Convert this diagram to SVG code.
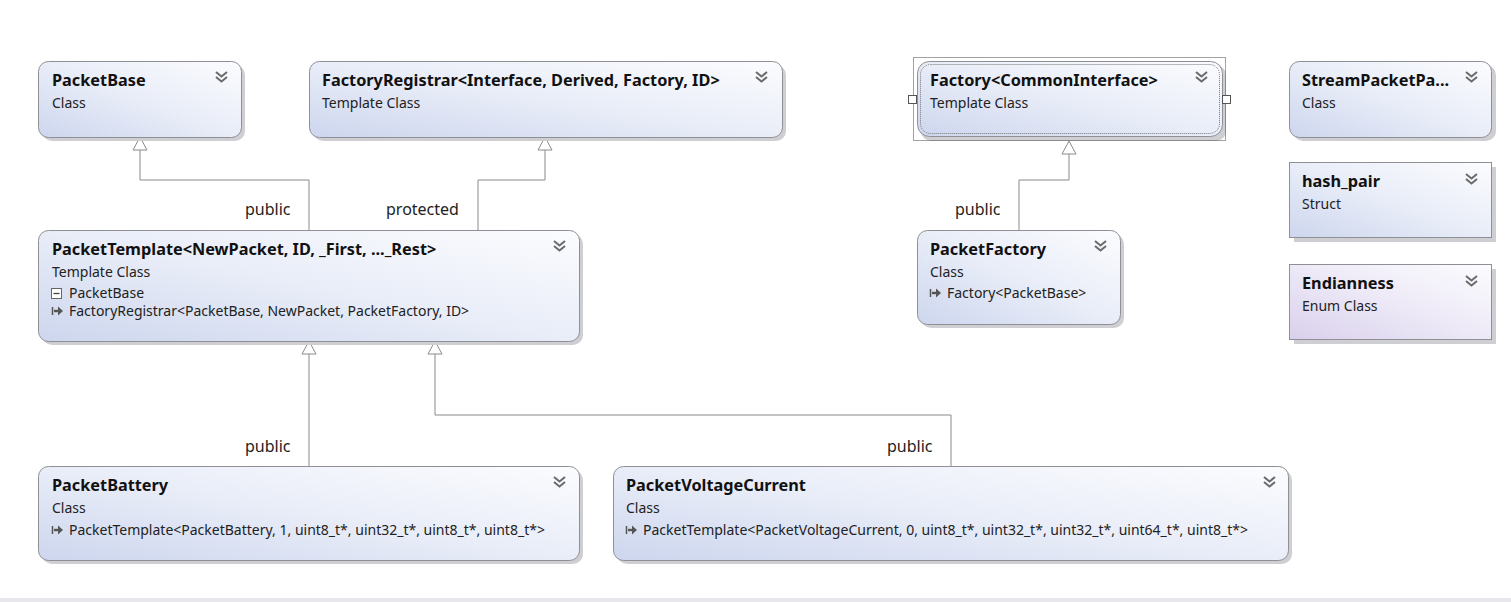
<svg xmlns="http://www.w3.org/2000/svg" width="1511" height="602" viewBox="0 0 1511 602">
<style>
.sh{fill:#cfcfd3}
.box{fill:url(#g);stroke:#8f8f96;stroke-width:1}
.boxe{fill:url(#ge);stroke:#8f8f96;stroke-width:1}
.t{font-family:"Segoe UI","Noto Sans","Open Sans",sans-serif;font-weight:bold;font-size:16.3px;fill:#111}
.s{font-family:"Segoe UI","Noto Sans","Open Sans",sans-serif;font-size:14px;fill:#222}
.b{font-family:"Segoe UI","Noto Sans","Open Sans",sans-serif;font-size:14px;fill:#222}
.lbl{font-family:"Segoe UI","Noto Sans","Open Sans",sans-serif;font-size:16px;fill:#222}
.ln{fill:none;stroke:#8a8a8a;stroke-width:1}
.ah{fill:#fff;stroke:#8a8a8a;stroke-width:1}
.chev{fill:none;stroke:#6a6a6a;stroke-width:2}
</style>
<defs>
<linearGradient id="g" x1="0" y1="1" x2="1" y2="0">
<stop offset="0" stop-color="#cdd6ee"/>
<stop offset="0.5" stop-color="#e9edf8"/>
<stop offset="1" stop-color="#fbfcfe"/>
</linearGradient>
<linearGradient id="ge" x1="0" y1="1" x2="1" y2="0">
<stop offset="0" stop-color="#d9d0ec"/>
<stop offset="0.5" stop-color="#ede9f7"/>
<stop offset="1" stop-color="#fcfcfe"/>
</linearGradient>
<g id="chv"><path class="chev" d="M0,0 L5.5,4.5 L11,0 M0,5 L5.5,9.5 L11,5"/></g>
<g id="arr"><path d="M0.5,-4 V4" stroke="#555" stroke-width="1.5"/><path d="M2,0 H7" stroke="#555" stroke-width="2.4"/><path d="M6,-4.5 L11,0 L6,4.5 Z" fill="#555"/></g>
<g id="minus"><rect x="0.5" y="0.5" width="10" height="10" fill="#fff" stroke="#666"/><path d="M2.5,5.5 H8.5" stroke="#444" stroke-width="1.3"/></g>
</defs>
<rect x="0" y="0" width="1511" height="602" fill="#fff"/>
<rect x="0" y="598" width="1511" height="4" fill="#e7e7ec"/>

<g id="connectors">
<path class="ln" d="M309,230 V180 H140 V150"/>
<path class="ah" d="M140,137 L133,150 L147,150 Z"/>
<text class="lbl" x="245" y="215">public</text>
<path class="ln" d="M478,230 V180 H545 V150"/>
<path class="ah" d="M545,137 L538,150 L552,150 Z"/>
<text class="lbl" x="386" y="215">protected</text>
<path class="ln" d="M1019,230 V180 H1069 V154"/>
<path class="ah" d="M1069,141 L1062,154 L1076,154 Z"/>
<text class="lbl" x="955" y="215">public</text>
<path class="ln" d="M309,466 V354"/>
<path class="ah" d="M309,341 L302,354 L316,354 Z"/>
<text class="lbl" x="245" y="452">public</text>
<path class="ln" d="M951,466 V415 H435 V354"/>
<path class="ah" d="M435,341 L428,354 L442,354 Z"/>
<text class="lbl" x="887" y="452">public</text>
</g>

<g id="PacketBase">
<rect class="sh" x="42" y="65" width="203" height="76" rx="10"/>
<rect class="box" x="38.5" y="61.5" width="203" height="76" rx="10"/>
<text class="t" x="52" y="86">PacketBase</text>
<text class="s" x="52" y="108">Class</text>
<use href="#chv" x="216" y="72"/>
</g>

<g id="FactoryRegistrar">
<rect class="sh" x="313" y="65" width="473" height="76" rx="10"/>
<rect class="box" x="309.5" y="61.5" width="473" height="76" rx="10"/>
<text class="t" x="322" y="86">FactoryRegistrar&lt;Interface, Derived, Factory, ID&gt;</text>
<text class="s" x="322" y="108">Template Class</text>
<use href="#chv" x="756" y="72"/>
</g>

<g id="Factory">
<rect class="sh" x="921" y="65" width="305" height="76" rx="10"/>
<rect x="913.5" y="57.5" width="312" height="83" fill="none" stroke="#444" stroke-width="1" stroke-dasharray="1,1"/>
<rect class="box" x="917.5" y="61.5" width="305" height="75" rx="12"/>
<rect x="920.5" y="64.5" width="299" height="69" rx="10" fill="none" stroke="#777" stroke-width="1" stroke-dasharray="1,1"/>
<rect x="908.5" y="95.5" width="8" height="8" fill="#fff" stroke="#555"/>
<rect x="1222.5" y="95.5" width="8" height="8" fill="#fff" stroke="#555"/>
<text class="t" x="930" y="86">Factory&lt;CommonInterface&gt;</text>
<text class="s" x="930" y="108">Template Class</text>
<use href="#chv" x="1196" y="72"/>
</g>

<g id="StreamPacketParser">
<rect class="sh" x="1293" y="65" width="203" height="76" rx="10"/>
<rect class="box" x="1289.5" y="61.5" width="202" height="76" rx="10"/>
<text class="t" x="1302" y="86">StreamPacketPa...</text>
<text class="s" x="1302" y="108">Class</text>
<use href="#chv" x="1466" y="72"/>
</g>

<g id="hash_pair">
<rect class="sh" x="1294" y="167" width="202" height="75"/>
<rect class="box" x="1289.5" y="162.5" width="202" height="75"/>
<text class="t" x="1302" y="187">hash_pair</text>
<text class="s" x="1302" y="209">Struct</text>
<use href="#chv" x="1466" y="174"/>
</g>

<g id="Endianness">
<rect class="sh" x="1294" y="269" width="202" height="75"/>
<rect class="boxe" x="1289.5" y="264.5" width="202" height="75"/>
<text class="t" x="1302" y="289">Endianness</text>
<text class="s" x="1302" y="311">Enum Class</text>
<use href="#chv" x="1466" y="276"/>
</g>

<g id="PacketTemplate">
<rect class="sh" x="42" y="234" width="541" height="111" rx="10"/>
<rect class="box" x="38.5" y="230.5" width="541" height="111" rx="10"/>
<text class="t" x="52" y="255">PacketTemplate&lt;NewPacket, ID, _First, ..._Rest&gt;</text>
<text class="s" x="52" y="277">Template Class</text>
<use href="#minus" x="51" y="288"/>
<text class="b" x="69" y="298">PacketBase</text>
<use href="#arr" x="52" y="311"/>
<text class="b" x="69" y="316">FactoryRegistrar&lt;PacketBase, NewPacket, PacketFactory, ID&gt;</text>
<use href="#chv" x="554" y="241"/>
</g>

<g id="PacketFactory">
<rect class="sh" x="921" y="234" width="203" height="94" rx="10"/>
<rect class="box" x="917.5" y="230.5" width="203" height="94" rx="10"/>
<text class="t" x="930" y="255">PacketFactory</text>
<text class="s" x="930" y="277">Class</text>
<use href="#arr" x="930" y="293"/>
<text class="b" x="947" y="298">Factory&lt;PacketBase&gt;</text>
<use href="#chv" x="1095" y="241"/>
</g>

<g id="PacketBattery">
<rect class="sh" x="42" y="470" width="541" height="94" rx="10"/>
<rect class="box" x="38.5" y="466.5" width="541" height="94" rx="10"/>
<text class="t" x="52" y="491">PacketBattery</text>
<text class="s" x="52" y="513">Class</text>
<use href="#arr" x="52" y="530"/>
<text class="b" x="69" y="535">PacketTemplate&lt;PacketBattery, 1, uint8_t*, uint32_t*, uint8_t*, uint8_t*&gt;</text>
<use href="#chv" x="554" y="477"/>
</g>

<g id="PacketVoltageCurrent">
<rect class="sh" x="617" y="470" width="675" height="94" rx="10"/>
<rect class="box" x="613.5" y="466.5" width="675" height="94" rx="10"/>
<text class="t" x="626" y="491">PacketVoltageCurrent</text>
<text class="s" x="626" y="513">Class</text>
<use href="#arr" x="626" y="530"/>
<text class="b" x="643" y="535">PacketTemplate&lt;PacketVoltageCurrent, 0, uint8_t*, uint32_t*, uint32_t*, uint64_t*, uint8_t*&gt;</text>
<use href="#chv" x="1264" y="477"/>
</g>
</svg>
